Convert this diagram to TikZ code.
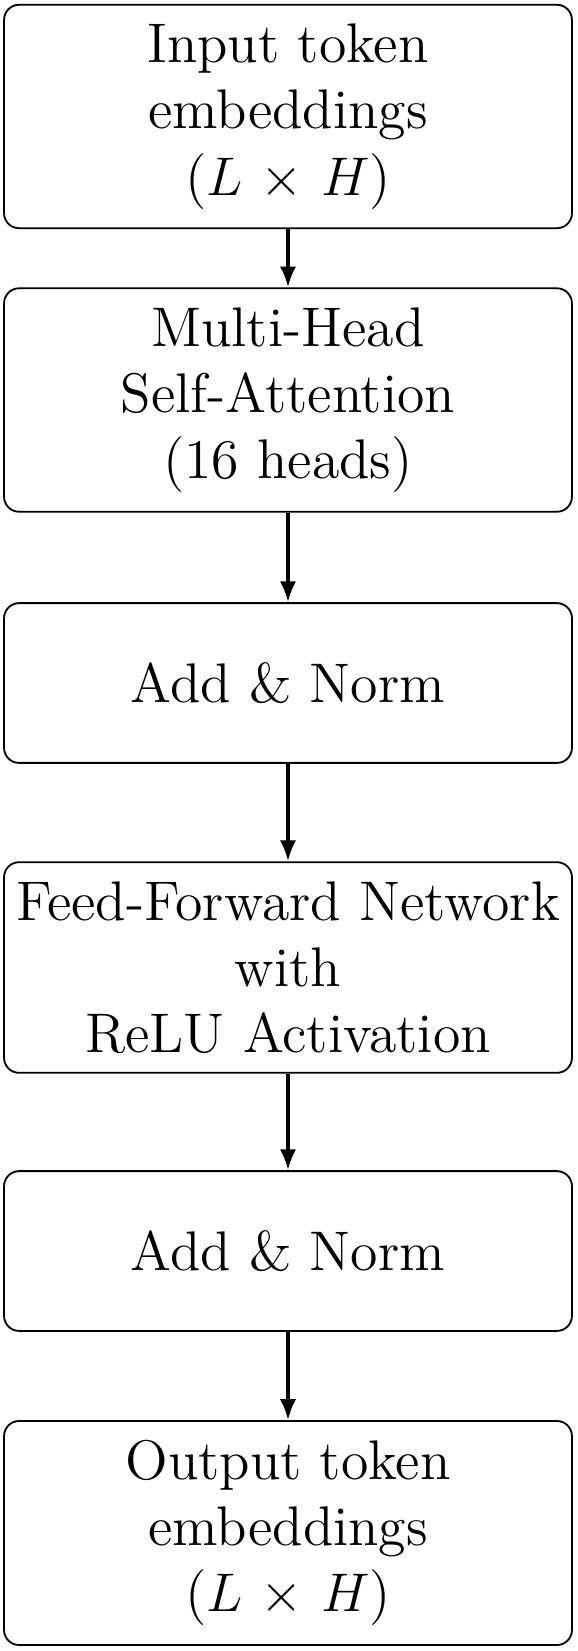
\documentclass[tikz,border=0pt]{standalone}
\usetikzlibrary{arrows.meta}
\begin{document}
\begin{tikzpicture}[x=0.2203pt, y=-0.2203pt,
  block/.style={draw, thin, rounded corners=3.3pt, align=center,
    minimum width=125.1pt, minimum height=35.2pt, inner xsep=2pt, inner ysep=4.2pt,
    font=\fontsize{12.3}{14.6}\selectfont},
  arr/.style={thick, -{Latex[length=4.6pt,width=3.6pt]}}]
  \useasboundingbox (0,0) rectangle (578,1651);
  % encoder layer, top to bottom
  \node[block] (input) at (288,116.5) {Input token\\embeddings\\($L$ $\times$ $H$)};
  \node[block] (mhsa) at (288,400) {Multi-Head\\Self-Attention\\(16 heads)};
  \node[block] (norm1) at (288,683) {Add \& Norm};
  \node[block] (ffn) at (288,967.5) {Feed-Forward Network\\with\\ReLU Activation};
  \node[block] (norm2) at (288,1251) {Add \& Norm};
  \node[block] (output) at (288,1533) {Output token\\embeddings\\($L$ $\times$ $H$)};
  \draw[arr] (input) -- (mhsa);
  \draw[arr] (mhsa) -- (norm1);
  \draw[arr] (norm1) -- (ffn);
  \draw[arr] (ffn) -- (norm2);
  \draw[arr] (norm2) -- (output);
\end{tikzpicture}
\end{document}
